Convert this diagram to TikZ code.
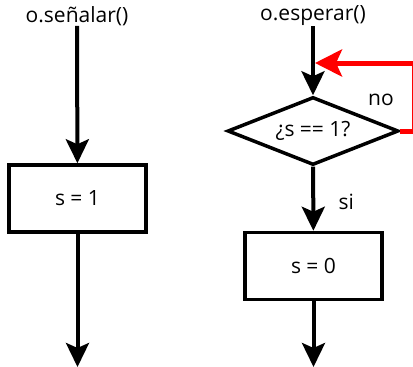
\documentclass[tikz,border=0pt]{standalone}
\usepackage{fontspec}
\setmainfont{Open Sans}
\usepackage{tikz}
\usetikzlibrary{positioning,calc,shapes.geometric,arrows.meta}
\tikzstyle{proc} = [rectangle, draw=black, line width=3.5pt, minimum width=137pt, minimum height=67pt, inner sep=0pt]
\tikzstyle{decision} = [diamond, aspect=2.5, draw=black, line width=3.5pt, minimum width=171pt, minimum height=68pt, inner sep=0pt]
\tikzstyle{flow} = [line width=4pt, -{Stealth[length=24pt,width=23pt,inset=5pt]}]
\tikzstyle{retry} = [draw=red, line width=5pt, -{Stealth[length=27pt,width=27pt,inset=6pt]}]
\tikzstyle{lbl} = [inner sep=0pt]

\begin{document}
\begin{tikzpicture}[x=1pt, y=-1pt, every node/.style={font=\fontsize{21}{25}\selectfont}]
    \useasboundingbox (0,0) rectangle (413,367);
    \node[lbl] (callA) at (77,16) {o.señalar()};
    \node[proc] (setA) at (77.5,198.5) {s = 1};
    \coordinate (outA) at (77.5,367);
    \draw[flow] (callA) -- (setA);
    \draw[flow] (setA) -- (outA);
    \node[lbl] (callB) at (313,16) {o.esperar()};
    \node[decision] (test) at (313,131) {¿s == 1?};
    \node[proc] (setB) at (313.5,266) {s = 0};
    \coordinate (outB) at (313.5,367);
    \coordinate (joinB) at (315,63);
    \coordinate (backR) at (414.3,131);
    \coordinate (backT) at (414.3,63);
    \draw[flow] (callB) -- (test);
    \draw[flow] (test) -- node[right=20pt, pos=0.55] {si} (setB);
    \draw[flow] (setB) -- (outB);
    \draw[retry] (test.east) -- (backR) -- (backT) -- (joinB);
    \node[lbl] (lblNo) at (381,100) {no};
\end{tikzpicture}
\end{document}
